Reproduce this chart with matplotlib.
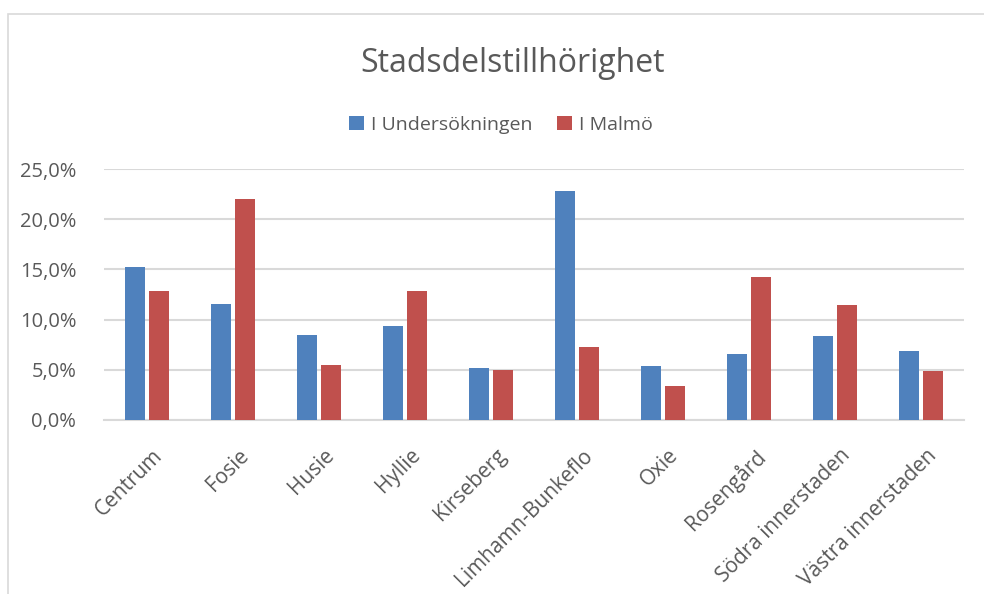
import matplotlib.pyplot as plt
import matplotlib.patches as mpatches
import matplotlib.transforms as mtransforms
from matplotlib.ticker import FuncFormatter
import numpy as np

# Data
categories = ['Centrum', 'Fosie', 'Husie', 'Hyllie', 'Kirseberg', 'Limhamn-Bunkeflo',
              'Oxie', 'Rosengård', 'Södra innerstaden', 'Västra innerstaden']
undersokningen = [15.2, 11.6, 8.5, 9.4, 5.2, 22.8, 5.4, 6.6, 8.4, 6.9]
malmo = [12.8, 22.0, 5.5, 12.8, 5.0, 7.3, 3.4, 14.2, 11.5, 4.9]

blue = '#4f81bd'
red = '#c0504d'
text_color = '#595959'
grid_color = '#d9d9d9'

plt.rcParams['font.family'] = ['Open Sans', 'DejaVu Sans']

fig = plt.figure(figsize=(9.84, 5.94), dpi=100)
ax = fig.add_axes([104 / 984, 1 - 420 / 594, 860 / 984, 251 / 594])

x = np.arange(len(categories))
w = 0.233
ax.bar(x - 0.145, undersokningen, w, color=blue, label='I Undersökningen', zorder=3)
ax.bar(x + 0.145, malmo, w, color=red, label='I Malmö', zorder=3)

ax.set_xlim(-0.5, len(categories) - 0.5)
ax.set_ylim(0, 25)
ax.set_yticks(np.arange(0, 26, 5))
ax.yaxis.set_major_formatter(FuncFormatter(lambda v, p: f'{v:.1f}%'.replace('.', ',')))
ax.grid(axis='y', color=grid_color, linewidth=1.5, zorder=0)
for s in ['top', 'right', 'left']:
    ax.spines[s].set_visible(False)
ax.spines['bottom'].set_color(grid_color)
ax.spines['bottom'].set_linewidth(1.5)
ax.tick_params(axis='both', length=0, colors=text_color)
ax.tick_params(axis='y', pad=20, labelsize=14.5)
ax.tick_params(axis='x', labelsize=15)
ax.set_xticks(x)
ax.set_xticklabels(categories, rotation=45, ha='right', rotation_mode='anchor')

# shift the rotated labels a bit down and right, like the original
offset = mtransforms.ScaledTranslation(0.05, -0.2, fig.dpi_scale_trans)
for lbl in ax.get_xticklabels():
    lbl.set_transform(lbl.get_transform() + offset)

fig.text(513 / 984, 1 - 63 / 594, 'Stadsdelstillhörighet', ha='center', va='center',
         fontsize=23, color=text_color)
fig.legend(loc='center', bbox_to_anchor=(501 / 984, 1 - 125 / 594), ncol=2, frameon=False,
           fontsize=14, labelcolor=text_color, handlelength=0.75, handleheight=0.75,
           handletextpad=0.35, columnspacing=1.3)

fig.patches.append(mpatches.Rectangle((8 / 984, -0.1), 1.2, 1 - 14 / 594 + 0.1,
                                      transform=fig.transFigure, fill=False,
                                      edgecolor='#d9d9d9', linewidth=1.2))

fig.savefig('out.png', dpi=100)
